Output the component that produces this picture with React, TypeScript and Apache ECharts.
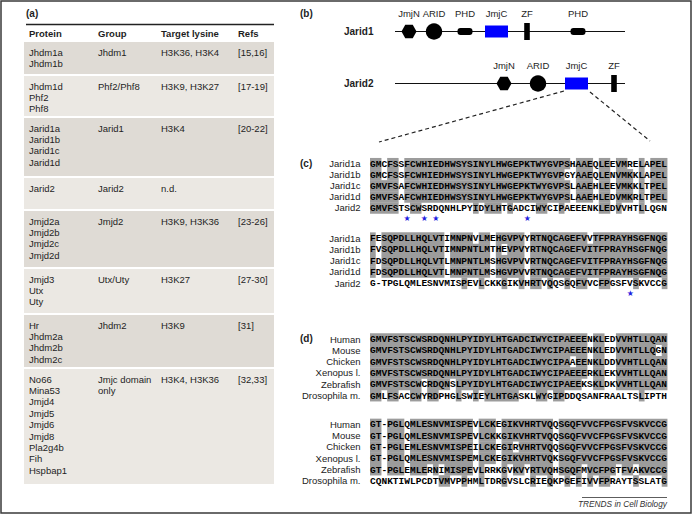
import React, { useEffect, useRef } from 'react';
import * as echarts from 'echarts';

// ---------- data ----------
const tableHeaders = ['Protein', 'Group', 'Target lysine', 'Refs'];
const proteins = [
  ['Jhdm1a', 'Jhdm1b'],
  ['Jhdm1d', 'Phf2', 'Phf8'],
  ['Jarid1a', 'Jarid1b', 'Jarid1c', 'Jarid1d'],
  ['Jarid2'],
  ['Jmjd2a', 'Jmjd2b', 'Jmjd2c', 'Jmjd2d'],
  ['Jmjd3', 'Utx', 'Uty'],
  ['Hr', 'Jhdm2a', 'Jhdm2b', 'Jhdm2c'],
  ['No66', 'Mina53', 'Jmjd4', 'Jmjd5', 'Jmjd6', 'Jmjd8', 'Pla2g4b', 'Fih', 'Hspbap1'],
];
const groups = [['Jhdm1'], ['Phf2/Phf8'], ['Jarid1'], ['Jarid2'], ['Jmjd2'], ['Utx/Uty'], ['Jhdm2'], ['Jmjc domain', 'only']];
const targets = ['H3K36, H3K4', 'H3K9, H3K27', 'H3K4', 'n.d.', 'H3K9, H3K36', 'H3K27', 'H3K9', 'H3K4, H3K36'];
const refs = ['[15,16]', '[17-19]', '[20-22]', '', '[23-26]', '[27-30]', '[31]', '[32,33]'];

const jarid1Domains = [
  { name: 'JmjN', kind: 'hex' },
  { name: 'ARID', kind: 'circle' },
  { name: 'PHD', kind: 'phd' },
  { name: 'JmjC', kind: 'jmjc' },
  { name: 'ZF', kind: 'zf' },
  { name: 'PHD', kind: 'phd' },
];
const jarid2Domains = [
  { name: 'JmjN', kind: 'hex' },
  { name: 'ARID', kind: 'circle' },
  { name: 'JmjC', kind: 'jmjc' },
  { name: 'ZF', kind: 'zf' },
];

const cNames = ['Jarid1a', 'Jarid1b', 'Jarid1c', 'Jarid1d', 'Jarid2'];
const cBlock1 = [
  'GMCFSSFCWHIEDHWSYSINYLHWGEPKTWYGVPSHAAEQLEEVMRELAPEL',
  'GMCFSSFCWHIEDHWSYSINYLHWGEPKTWYGVPGYAAEQLENVMKKLAPEL',
  'GMVFSAFCWHIEDHWSYSINYLHWGEPKTWYGVPSLAAEHLEEVMKKLTPEL',
  'GMVFSAFCWHIEDHWSYSINYLHWGEPKTWYGVPSLAAEHLEDVMKRLTPEL',
  'GMVFSTSCWSRDQNHLPYIDYLHTGADCIWYCIPAEEENKLEDVVHTLLQGN',
];
const cBlock2 = [
  'FESQPDLLHQLVTIMNPNVLMEHGVPVYRTNQCAGEFVVTFPRAYHSGFNQG',
  'FVSQPDLLHQLVTIMNPNTLMTHEVPVYRTNQCAGEFVITFPRAYHSGFNQG',
  'FDSQPDLLHQLVTLMNPNTLMSHGVPVVRTNQCAGEFVITFPRAYHSGFNQG',
  'FDSQPDLLHQLVTLMNPNTLMSHGVPVVRTNQCAGEFVITFPRAYHSGFNQG',
  'G-TPGLQMLESNVMISPEVLCKKGIKVHRTVQQSGQFVVCFPGSFVSKVCCG',
];
const cStars1 = [6, 9, 11, 27];
const cStars2 = [45];

const dNames = ['Human', 'Mouse', 'Chicken', 'Xenopus l.', 'Zebrafish', 'Drosophila m.'];
const dBlock1 = [
  'GMVFSTSCWSRDQNHLPYIDYLHTGADCIWYCIPAEEENKLEDVVHTLLQAN',
  'GMVFSTSCWSRDQNHLPYIDYLHTGADCIWYCIPAEEENKLEDVVHTLLQGN',
  'GMVFSTSCWSRDQNHLPYIDYLHTGADCIWYCIPAAEENKLDDVVHTLLQAN',
  'GMVFSTSCWSRDQNHLPYIDYLHTGADCIWYCIPAEEERKLEKVVHTLLQAN',
  'GMVFSTSCWCRDQNSLPYIDYLHTGADCIWYCIPAEEKSKLDKVVHTLLQAN',
  'GMLFSACCWYRDPHGLSWIEYLHTGASKLWYGIPDDQSANFRAALTSLIPTH',
];
const dBlock2 = [
  'GT-PGLQMLESNVMISPEVLCKEGIKVHRTVQQSGQFVVCFPGSFVSKVCCG',
  'GT-PGLQMLESNVMISPEVLCKKGIKVHRTVQQSGQFVVCFPGSFVSKVCCG',
  'GT-PGLEMLESNVMISPEILCKEGIRVHRTVQQSGQFVVCFPGSFVSKVCCG',
  'GT-PGLQMLESNVMISPEMLCKEGIKVHRTVQKSGQFVVCFPGSFVSKVCCG',
  'GT-PGLEMLERNIMISPEVLRRKGVKVYRTVQHSGQFMVCFPGTFVAKVCCG',
  'CQNKTIWLPCDTVMVPPHMLTDRGVSLCRIEQKPGEFIVVFPRAYTSSLATG',
];

// ---------- layout ----------
const SANS = 'Liberation Sans';
const MONO = 'Liberation Mono';
const TEXT = '#1e1e1e';
const SHADE = '#9c9c9c';
const CW = 5.72;
const SEQ_X0 = 370;

function buildElements() {
  const el: any[] = [];
  const txt = (x: number, y: number, text: string, o: any = {}) =>
    el.push({
      type: 'text', x, y, silent: true,
      style: {
        text, fill: o.fill || TEXT, fontSize: o.size || 9.5, fontFamily: o.family || SANS,
        fontWeight: o.weight || 'normal', fontStyle: o.style || 'normal',
        align: o.align || 'left', verticalAlign: 'middle',
      },
    });

  // frame
  el.push({ type: 'rect', shape: { x: 1, y: 1, width: 690, height: 512 }, style: { fill: 'none', stroke: '#3a3a3a', lineWidth: 1.5 } });

  // ---- (a) table ----
  txt(26, 13, '(a)', { weight: 'bold', size: 10 });
  el.push({ type: 'line', shape: { x1: 26, y1: 24.5, x2: 274, y2: 24.5 }, style: { stroke: '#222', lineWidth: 1.5 } });
  const colX = [29, 98, 161, 238];
  tableHeaders.forEach((h, i) => txt(colX[i], 33, h, { weight: 'bold', size: 9.5 }));
  const tops = [42, 76, 118, 178, 211, 269, 315, 369, 486];
  for (let r = 0; r < proteins.length; r++) {
    el.push({
      type: 'rect', shape: { x: 24, y: tops[r], width: 250, height: tops[r + 1] - tops[r] - 2 },
      style: { fill: r % 2 === 0 ? '#dfdbd5' : '#ebe8e3' },
    });
    const y0 = tops[r] + 10;
    proteins[r].forEach((p, k) => txt(colX[0], y0 + k * 11.4, p));
    groups[r].forEach((g, k) => txt(colX[1], y0 + k * 11.4, g));
    txt(colX[2], y0, targets[r]);
    if (refs[r]) txt(colX[3], y0, refs[r]);
  }

  // ---- (b) domain diagrams ----
  txt(300, 13, '(b)', { weight: 'bold', size: 10 });
  const lineX1 = 395, lineX2 = 625;
  const drawProtein = (name: string, y: number, doms: any[], pos: number[], labelY: number) => {
    txt(344, y, name, { weight: 'bold', size: 10 });
    el.push({ type: 'line', shape: { x1: lineX1, y1: y, x2: lineX2, y2: y }, style: { stroke: '#111', lineWidth: 1.1 } });
    doms.forEach((d, i) => {
      const cx = lineX1 + pos[i];
      if (d.kind === 'hex') {
        const w = 7.5, h = 6.8;
        el.push({ type: 'polygon', shape: { points: [[cx - w, y], [cx - w / 2, y - h], [cx + w / 2, y - h], [cx + w, y], [cx + w / 2, y + h], [cx - w / 2, y + h]] }, style: { fill: '#000' } });
      } else if (d.kind === 'circle') {
        el.push({ type: 'circle', shape: { cx, cy: y, r: 8.2 }, style: { fill: '#000' } });
      } else if (d.kind === 'phd') {
        el.push({ type: 'rect', shape: { x: cx - 7.5, y: y - 3.5, width: 15, height: 7, r: 3 }, style: { fill: '#000' } });
      } else if (d.kind === 'jmjc') {
        el.push({ type: 'rect', shape: { x: cx - 11.5, y: y - 6, width: 23, height: 12 }, style: { fill: '#0000ff' } });
      } else if (d.kind === 'zf') {
        el.push({ type: 'rect', shape: { x: cx - 2.8, y: y - 8.5, width: 5.6, height: 17 }, style: { fill: '#000' } });
      }
      txt(cx, labelY, d.name, { align: 'center', size: 9.5 });
    });
  };
  drawProtein('Jarid1', 31.5, jarid1Domains, [14, 39, 70, 101.5, 132, 183], 13.5);
  drawProtein('Jarid2', 83.5, jarid2Domains, [109, 143, 181.5, 219], 65);
  el.push({ type: 'line', shape: { x1: 564, y1: 91, x2: 379, y2: 142 }, style: { stroke: '#222', lineWidth: 1.2, lineDash: [4, 3] } });
  el.push({ type: 'line', shape: { x1: 590, y1: 92, x2: 650, y2: 141 }, style: { stroke: '#222', lineWidth: 1.2, lineDash: [4, 3] } });

  // ---- alignments ----
  const drawBlock = (names: string[], seqs: string[], y0: number, step: number) => {
    const n = seqs.length;
    const len = seqs[0].length;
    const shaded: boolean[][] = seqs.map(() => new Array(len).fill(false));
    for (let c = 0; c < len; c++) {
      const counts: Record<string, number> = {};
      seqs.forEach((s) => { const ch = s[c]; if (ch !== '-') counts[ch] = (counts[ch] || 0) + 1; });
      let best = '', bc = 0;
      Object.keys(counts).forEach((k) => { if (counts[k] > bc) { bc = counts[k]; best = k; } });
      if (bc > n / 2) seqs.forEach((s, r) => { if (s[c] === best) shaded[r][c] = true; });
    }
    seqs.forEach((s, r) => {
      const y = y0 + r * step;
      let c = 0;
      while (c < len) {
        if (shaded[r][c]) {
          let e = c;
          while (e < len && shaded[r][e]) e++;
          el.push({ type: 'rect', silent: true, shape: { x: SEQ_X0 + c * CW, y: y - step / 2, width: (e - c) * CW, height: step + 0.3 }, style: { fill: SHADE } });
          c = e;
        } else c++;
      }
    });
    seqs.forEach((s, r) => {
      const y = y0 + r * step;
      txt(360.5, y, names[r], { align: 'right', size: 9.5, fill: '#222' });
      txt(SEQ_X0, y + 0.5, s, { family: MONO, weight: 'bold', size: CW / 0.6, fill: '#000' });
    });
  };
  const drawStars = (cols: number[], y: number) => {
    cols.forEach((c) => txt(SEQ_X0 + (c + 0.5) * CW, y, '\u2605', { family: 'DejaVu Sans', size: 8, align: 'center', fill: '#1f1fe0' }));
  };

  txt(300, 163.5, '(c)', { weight: 'bold', size: 10 });
  drawBlock(cNames, cBlock1, 163.5, 11.1);
  drawStars(cStars1, 218.5);
  drawBlock(cNames, cBlock2, 238, 11.3);
  drawStars(cStars2, 293.5);

  txt(300, 338.5, '(d)', { weight: 'bold', size: 10 });
  drawBlock(dNames, dBlock1, 339, 11.3);
  drawBlock(dNames, dBlock2, 424.3, 11.3);

  el.push({ type: 'line', shape: { x1: 582, y1: 497.5, x2: 667, y2: 497.5 }, style: { stroke: '#333', lineWidth: 0.8 } });
  txt(667, 503.5, 'TRENDS in Cell Biology', { align: 'right', size: 8.3, style: 'italic', fill: '#333' });

  return el;
}

export default function App() {
  const ref = useRef<HTMLDivElement>(null);
  useEffect(() => {
    if (!ref.current) return;
    const chart = echarts.init(ref.current, undefined, { renderer: 'svg' });
    chart.setOption({
      animation: false,
      backgroundColor: '#ffffff',
      graphic: { elements: buildElements() },
    });
    return () => chart.dispose();
  }, []);
  return <div ref={ref} style={{ position: 'fixed', left: 0, top: 0, width: 692, height: 515, background: '#fff' }} />;
}
